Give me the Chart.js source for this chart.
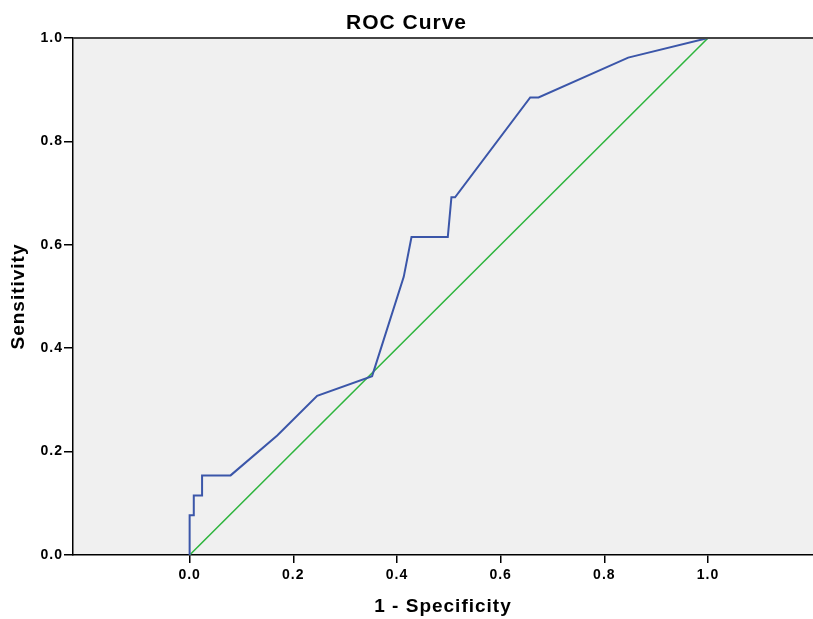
<!DOCTYPE html>
<html>
<head>
<meta charset="utf-8">
<script src="https://cdn.jsdelivr.net/npm/chart.js@4"></script>
<style>
  html, body { margin: 0; padding: 0; background: #fff; }
  #wrap { width: 813px; height: 619px; }
</style>
</head>
<body>
<div id="wrap"><canvas id="roc-chart"></canvas></div>
<script>
// ROC curve (1 - specificity, sensitivity)
const rocX = [0, 0, 0.008, 0.008, 0.024, 0.024, 0.079, 0.169, 0.246, 0.352, 0.413, 0.428, 0.498, 0.505, 0.512, 0.657, 0.673, 0.846, 1.0];
const rocY = [0, 0.077, 0.077, 0.115, 0.115, 0.154, 0.154, 0.231, 0.308, 0.346, 0.538, 0.615, 0.615, 0.692, 0.692, 0.885, 0.885, 0.962, 1.0];
const refX = [0, 1];
const refY = [0, 1];
const xTicks = [0, 0.2, 0.4, 0.6, 0.8, 1.0];
const yTicks = [0, 0.2, 0.4, 0.6, 0.8, 1.0];

const FONT = "'Liberation Sans', Arial, Helvetica, sans-serif";

const toPoints = (xs, ys) => xs.map((x, i) => ({ x: x, y: ys[i] }));

// the original uses a slightly tracked-out bold sans
const spacing = {
  id: "spacing",
  beforeLayout: (chart) => {
    chart.ctx.letterSpacing = "1px";
  },
  beforeDraw: (chart) => {
    chart.ctx.letterSpacing = "1px";
  },
};

// grey plot background + dark frame line on top
const plotFrame = {
  id: "plotFrame",
  beforeDraw: (chart) => {
    const { ctx, chartArea: a } = chart;
    ctx.save();
    ctx.fillStyle = "#f0f0f0";
    ctx.fillRect(a.left, a.top, a.right - a.left, a.bottom - a.top);
    ctx.restore();
  },
  afterDraw: (chart) => {
    const { ctx, chartArea: a } = chart;
    ctx.save();
    ctx.strokeStyle = "#444";
    ctx.lineWidth = 2;
    ctx.beginPath();
    ctx.moveTo(a.left, a.top);
    ctx.lineTo(a.right, a.top);
    ctx.stroke();
    ctx.restore();
  },
};

const ctx = document.getElementById("roc-chart").getContext("2d");

new Chart(ctx, {
  type: "scatter",
  data: {
    datasets: [
      {
        label: "ROC",
        data: toPoints(rocX, rocY),
        showLine: true,
        borderColor: "#3b56a9",
        borderWidth: 2,
        pointRadius: 0,
        tension: 0,
        order: 1,
      },
      {
        label: "Reference",
        data: toPoints(refX, refY),
        showLine: true,
        borderColor: "#2db53d",
        borderWidth: 1.5,
        pointRadius: 0,
        order: 2,
      },
    ],
  },
  options: {
    responsive: true,
    maintainAspectRatio: false,
    animation: false,
    layout: { padding: 0 },
    plugins: {
      legend: { display: false },
      tooltip: { enabled: false },
      title: {
        display: true,
        text: "ROC Curve",
        color: "#000",
        font: { family: FONT, size: 21, weight: "bold" },
        padding: { top: 11, bottom: 1.8 },
      },
    },
    scales: {
      x: {
        type: "linear",
        min: -0.225,
        max: 1.2025,
        afterBuildTicks: (scale) => {
          scale.ticks = xTicks.map((v) => ({ value: v }));
        },
        afterFit: (scale) => {
          scale.height = 64;
        },
        ticks: {
          color: "#000",
          font: { family: FONT, size: 14, weight: "bold" },
          padding: 4,
          maxRotation: 0,
          callback: (v) => Number(v).toFixed(1),
        },
        grid: {
          display: true,
          drawOnChartArea: false,
          drawTicks: true,
          tickLength: 8,
          color: "#000",
          lineWidth: 1.5,
        },
        border: { display: true, color: "#000", width: 1.5 },
        title: {
          display: true,
          text: "1 - Specificity",
          color: "#000",
          font: { family: FONT, size: 19, weight: "bold" },
          padding: { top: 0, bottom: 1 },
        },
      },
      y: {
        type: "linear",
        min: 0,
        max: 1,
        afterBuildTicks: (scale) => {
          scale.ticks = yTicks.map((v) => ({ value: v }));
        },
        afterFit: (scale) => {
          scale.width = 73;
        },
        ticks: {
          color: "#000",
          font: { family: FONT, size: 14, weight: "bold" },
          padding: 1,
          callback: (v) => Number(v).toFixed(1),
        },
        grid: {
          display: true,
          drawOnChartArea: false,
          drawTicks: true,
          tickLength: 9,
          color: "#000",
          lineWidth: 1.5,
        },
        border: { display: true, color: "#000", width: 1.5 },
        title: {
          display: true,
          text: "Sensitivity",
          color: "#000",
          font: { family: FONT, size: 19, weight: "bold" },
          padding: { top: 7, bottom: 0 },
        },
      },
    },
  },
  plugins: [spacing, plotFrame],
});
</script>
</body>
</html>
